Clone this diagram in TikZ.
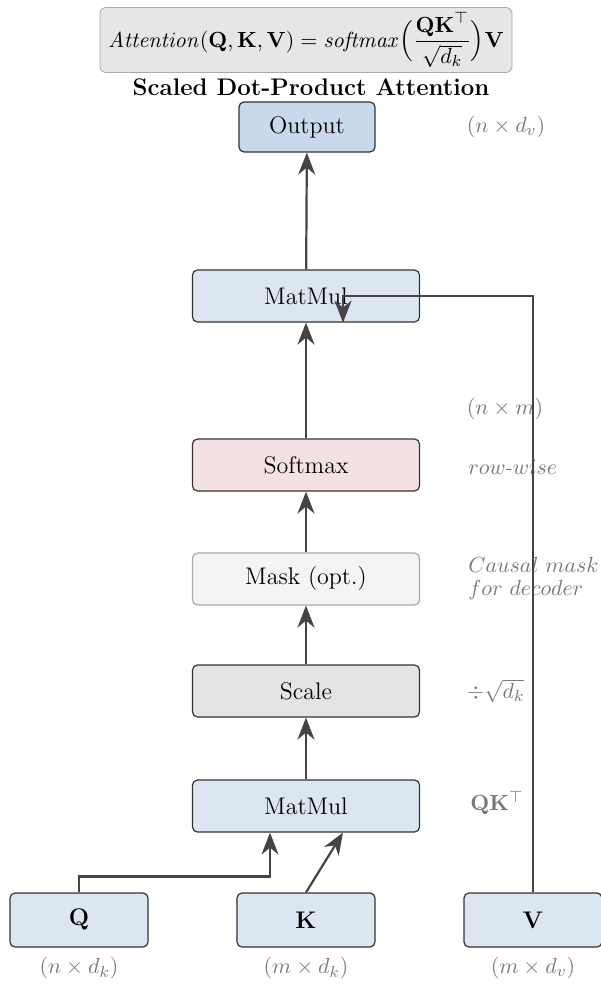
\documentclass[tikz,border=0pt]{standalone}
\usepackage{amsmath,amssymb}
\usetikzlibrary{arrows.meta}
\definecolor{edgec}{HTML}{444444}
\definecolor{boxline}{HTML}{333333}
\definecolor{outfill}{HTML}{C9D9EB}
\definecolor{mmfill}{HTML}{DCE6F1}
\definecolor{smfill}{HTML}{F3E1E4}
\definecolor{maskfill}{HTML}{F4F4F4}
\definecolor{maskline}{HTML}{AAAAAA}
\definecolor{scalefill}{HTML}{E4E4E4}
\definecolor{notec}{HTML}{777777}
\definecolor{eqfill}{HTML}{E6E6E6}
\definecolor{eqline}{HTML}{AAAAAA}
\tikzset{
  opbox/.style={draw=boxline, line width=0.6pt, rounded corners=2.5pt, inner sep=0pt,
    minimum width=113.5pt, minimum height=26pt, font=\fontsize{12}{14}\selectfont},
  inbox/.style={opbox, fill=mmfill, minimum width=69pt, minimum height=27pt},
  arr/.style={draw=edgec, line width=1.1pt, -{Stealth[length=11pt,width=8.5pt,inset=3.5pt]}},
  dimnote/.style={text=notec, font=\fontsize{11}{13}\selectfont},
  sidenote/.style={text=notec, anchor=west, align=left, inner sep=0pt,
    font=\fontsize{10.5}{11.5}\selectfont},
}
\begin{document}
\begin{tikzpicture}[x=0.5pt, y=-0.5pt]
\useasboundingbox (0,0) rectangle (600,984);
% formula and title
\node[draw=eqline, fill=eqfill, rounded corners=3pt, minimum width=206pt, minimum height=32.5pt,
  inner sep=0pt, font=\fontsize{11.4}{13}\selectfont] (eq) at (306,40)
  {$\mathit{Attention}(\mathbf{Q},\mathbf{K},\mathbf{V}) = \mathit{softmax}\Bigl(\dfrac{\mathbf{QK}^{\top}}{\sqrt{d_k}}\Bigr)\mathbf{V}$};
\node[font=\fontsize{12}{14}\selectfont\bfseries] (title) at (311,87) {Scaled Dot-Product Attention};
% operation boxes
\node[opbox, fill=outfill, minimum width=68pt, minimum height=25pt] (out) at (307,127) {Output};
\node[opbox, fill=mmfill] (mm2) at (306,296) {MatMul};
\node[opbox, fill=smfill] (sm) at (306,465) {Softmax};
\node[opbox, fill=maskfill, draw=maskline] (mask) at (306,579) {Mask (opt.)};
\node[opbox, fill=scalefill] (scale) at (306,691) {Scale};
\node[opbox, fill=mmfill] (mm1) at (306,806) {MatMul};
% inputs
\node[inbox] (Q) at (79,920) {$\mathbf{Q}$};
\node[inbox] (K) at (306,920) {$\mathbf{K}$};
\node[inbox] (V) at (533,920) {$\mathbf{V}$};
% dimension notes
\node[dimnote] (dq) at (79,968) {$(n\times d_k)$};
\node[dimnote] (dk) at (306,968) {$(m\times d_k)$};
\node[dimnote] (dv) at (533,968) {$(m\times d_v)$};
\node[dimnote] (dout) at (506,127) {$(n\times d_v)$};
\node[dimnote] (dnm) at (505,409) {$(n\times m)$};
\node[sidenote] (nrow) at (468,467) {$row$-$wise$};
\node[sidenote] (nmask) at (468,579) {$Causal\ mask$\\$for\ decoder$};
\node[sidenote, font=\fontsize{11}{13}\selectfont] (nscale) at (467,691) {$\div\sqrt{d_k}$};
\node[sidenote, font=\fontsize{11}{13}\selectfont] (nqk) at (470,803) {$\mathbf{QK}^{\top}$};
% connectors
\draw[arr] (Q.north) -- ++(0,8pt) -| ([xshift=-18pt]mm1.south);
\draw[arr] (K.north) -- ([xshift=18.5pt]mm1.south);
\draw[arr] (mm1) -- (scale);
\draw[arr] (scale) -- (mask);
\draw[arr] (mask) -- (sm);
\draw[arr] (sm) -- (mm2);
\draw[arr] (mm2) -- (out);
\draw[arr] (V.north) |- ([xshift=18.5pt]mm2.center) -- ([xshift=18.5pt]mm2.south);
\end{tikzpicture}
\end{document}
